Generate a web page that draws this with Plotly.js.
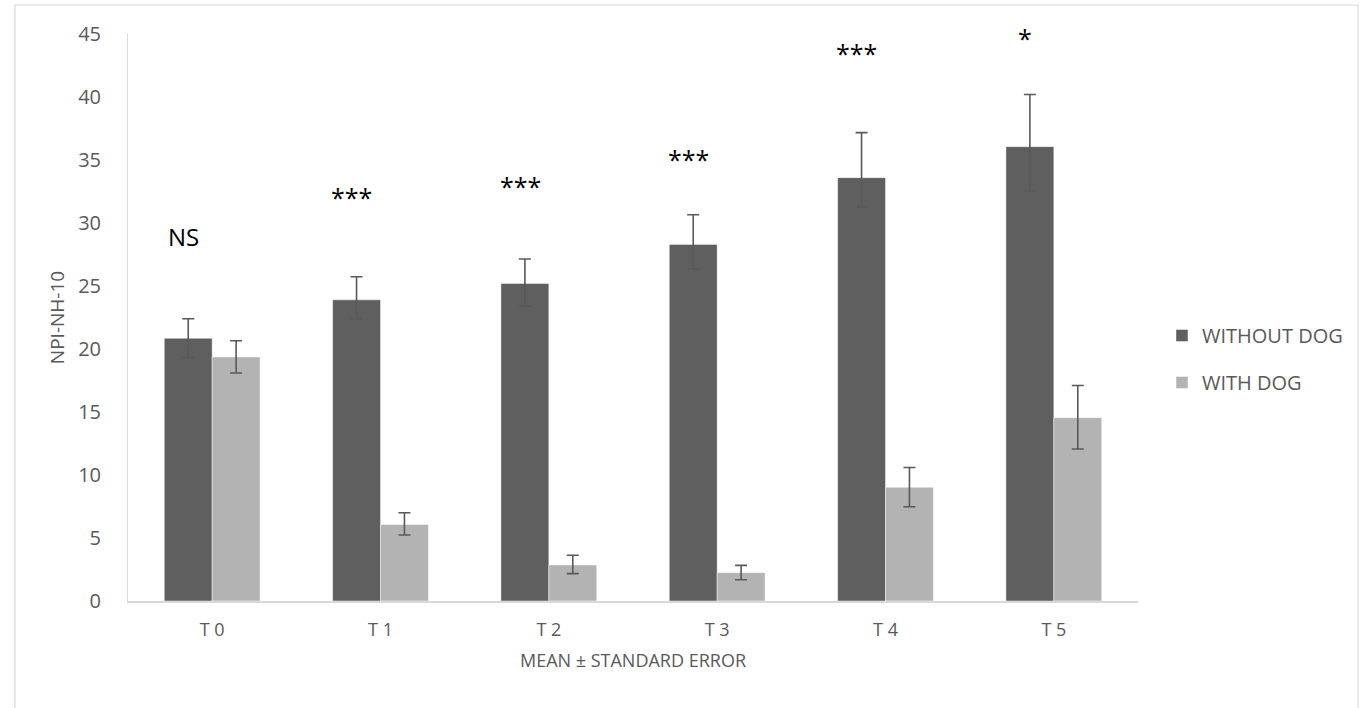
<!DOCTYPE html>
<html>
<head>
<meta charset="utf-8">
<script src="https://cdn.plot.ly/plotly-3.0.1.min.js"></script>
<style>
  html, body { margin: 0; padding: 0; background: #ffffff; }
  #chart { width: 1360px; height: 708px; }
</style>
</head>
<body>
<div id="chart"></div>
<script>
// ---- data ----
const categories = ["T 0", "T 1", "T 2", "T 3", "T 4", "T 5"];
const seriesNames = ["WITHOUT DOG", "WITH DOG"];

const withoutDog      = [20.85, 23.9, 25.2, 28.3, 33.6, 36.06];
const withoutDogPlus  = [1.55, 1.84, 1.94, 2.36, 3.57, 4.14];
const withoutDogMinus = [1.55, 1.5, 1.8, 1.95, 2.3, 3.5];

const withDog      = [19.37, 6.08, 2.86, 2.25, 9.02, 14.55];
const withDogPlus  = [1.29, 0.92, 0.77, 0.58, 1.58, 2.55];
const withDogMinus = [1.27, 0.84, 0.69, 0.56, 1.54, 2.49];

const sigLabels = ["NS", "***", "***", "***", "***", "*"];
const sigY      = [28.9, 32.1, 32.9, 35.1, 43.5, 44.7];

const yTicks = [0, 5, 10, 15, 20, 25, 30, 35, 40, 45];

// ---- chart ----
const FONT = "Open Sans, DejaVu Sans, sans-serif";
const GREY_TEXT = "#595959";
const AXIS_LINE = "#d9d9d9";
const ERR = "#595959";

const xIdx = categories.map((c, i) => i);

const traces = [
  {
    type: "bar",
    name: seriesNames[0],
    legendgroup: "a",
    x: xIdx,
    y: withoutDog,
    marker: { color: "#5f5f5f", line: { color: "rgba(255,255,255,0.6)", width: 0.75 } },
    error_y: {
      type: "data", symmetric: false,
      array: withoutDogPlus, arrayminus: withoutDogMinus,
      color: ERR, thickness: 1.6, width: 6
    },
    hoverinfo: "y"
  },
  {
    type: "bar",
    name: seriesNames[1],
    legendgroup: "b",
    x: xIdx,
    y: withDog,
    marker: { color: "#b3b3b3", line: { color: "rgba(255,255,255,0.6)", width: 0.75 } },
    error_y: {
      type: "data", symmetric: false,
      array: withDogPlus, arrayminus: withDogMinus,
      color: ERR, thickness: 1.6, width: 6
    },
    hoverinfo: "y"
  }
];

// plot area geometry (px) used for the outer frame
const L = 128, R = 222, T = 34, B = 107, W = 1360, H = 708;
const pw = W - L - R, ph = H - T - B;
const px = v => (v - L) / pw;
const py = v => (H - B - v) / ph;

const annotations = sigLabels.map((s, i) => ({
  x: i - 0.17,
  y: sigY[i],
  xref: "x", yref: "y",
  text: s,
  showarrow: false,
  font: { family: FONT, size: s === "NS" ? 24 : 25, color: "#000000" },
  xanchor: "center", yanchor: "middle"
}));

const layout = {
  width: W, height: H,
  margin: { l: L, r: R, t: T, b: B, pad: 0 },
  paper_bgcolor: "#ffffff",
  plot_bgcolor: "#ffffff",
  barmode: "group",
  bargap: 0.431,
  bargroupgap: 0,
  font: { family: FONT, color: GREY_TEXT },
  showlegend: true,
  legend: {
    x: px(1162), y: py(359),
    xanchor: "left", yanchor: "middle",
    traceorder: "grouped",
    tracegroupgap: 18,
    font: { family: FONT, size: 20, color: GREY_TEXT },
    bgcolor: "rgba(0,0,0,0)",
    itemclick: false, itemdoubleclick: false
  },
  xaxis: {
    type: "linear",
    range: [-0.5, 5.5],
    tickmode: "array",
    tickvals: xIdx,
    ticktext: categories,
    showgrid: false,
    zeroline: false,
    showline: true,
    linecolor: AXIS_LINE,
    linewidth: 1.5,
    ticks: "",
    ticklabelstandoff: 12,
    tickfont: { family: FONT, size: 18, color: GREY_TEXT },
    title: {
      text: "MEAN ± STANDARD ERROR",
      font: { family: FONT, size: 18, color: GREY_TEXT },
      standoff: 14
    },
    fixedrange: true
  },
  yaxis: {
    range: [0, 45],
    tickmode: "array",
    tickvals: yTicks,
    ticktext: yTicks.map(String),
    showgrid: false,
    zeroline: false,
    showline: true,
    linecolor: AXIS_LINE,
    linewidth: 1,
    ticks: "",
    ticklabelstandoff: 22,
    tickfont: { family: FONT, size: 20, color: GREY_TEXT },
    title: {
      text: "NPI-NH-10",
      font: { family: FONT, size: 19, color: GREY_TEXT },
      standoff: 8
    },
    fixedrange: true
  },
  annotations: annotations,
  shapes: [
    {
      type: "rect", xref: "paper", yref: "paper",
      x0: px(15), x1: px(1358), y0: py(716), y1: py(5),
      line: { color: AXIS_LINE, width: 1.2 },
      fillcolor: "rgba(0,0,0,0)",
      layer: "below"
    }
  ]
};

Plotly.newPlot("chart", traces, layout, { displayModeBar: false, staticPlot: true });
</script>
</body>
</html>
